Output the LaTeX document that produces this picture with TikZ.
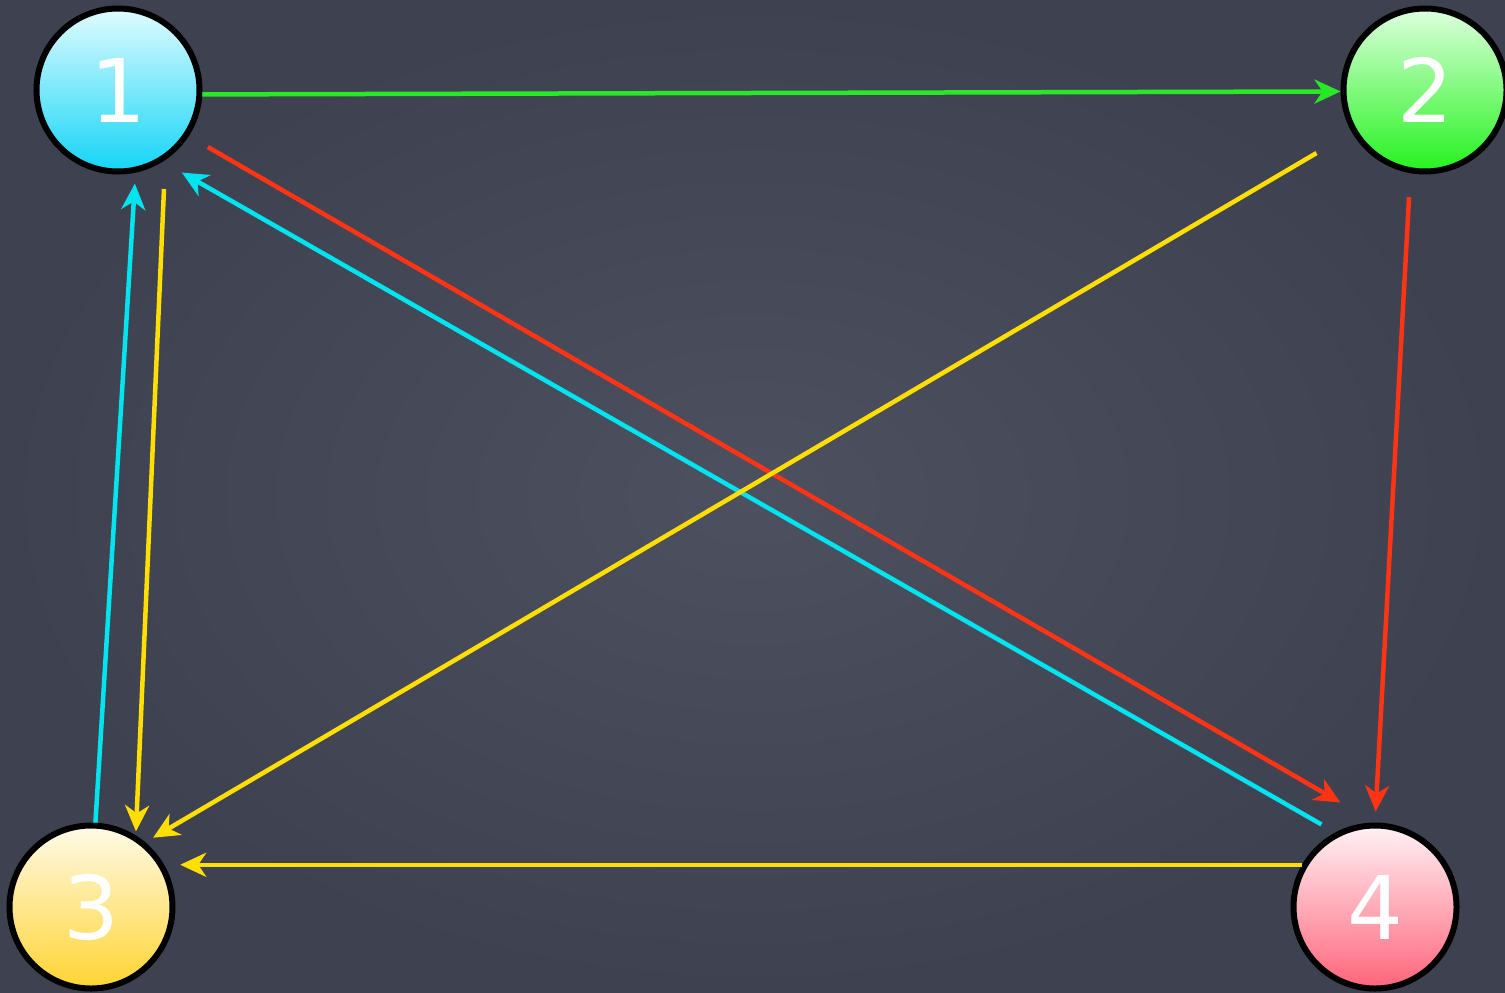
\documentclass[tikz,border=0pt]{standalone}
\usepackage{fontspec}
\usepackage{xcolor}
\usepackage{tikz}
\usetikzlibrary{arrows.meta,calc,positioning}
\newfontfamily\digitfont{DejaVu Sans}
\definecolor{boardlight}{RGB}{76,80,95}
\definecolor{boarddark}{RGB}{62,66,80}
\definecolor{arrgreen}{RGB}{40,232,40}
\definecolor{arrred}{RGB}{255,52,20}
\definecolor{arrcyan}{RGB}{0,228,240}
\definecolor{arryellow}{RGB}{255,222,0}

\begin{document}
\begin{tikzpicture}[
    vertex/.style={circle,draw=black,line width=0.06cm,minimum size=1.63cm,inner sep=0pt,
      text=white,font=\digitfont\fontsize{25}{25}\selectfont},
    conn/.style={line width=0.045cm,-{Stealth[length=0.26cm,width=0.24cm,inset=0.08cm]}}]
    \path[use as bounding box,clip] (0,0) rectangle (15.05,9.92);
    \shade[inner color=boardlight,outer color=boarddark] (0,0) rectangle (15.05,9.92);
    % the four vertices
    \node[vertex,top color={rgb,255:red,225;green,252;blue,255},bottom color={rgb,255:red,20;green,212;blue,246}] (v1) at (1.18,9.02) {1};
    \node[vertex,top color={rgb,255:red,222;green,255;blue,222},bottom color={rgb,255:red,36;green,242;blue,30}] (v2) at (14.25,9.02) {2};
    \node[vertex,top color={rgb,255:red,255;green,250;blue,232},bottom color={rgb,255:red,255;green,212;blue,50}] (v3) at (0.91,0.85) {3};
    \node[vertex,top color={rgb,255:red,255;green,242;blue,246},bottom color={rgb,255:red,255;green,100;blue,122}] (v4) at (13.75,0.85) {4};
    % edges
    \draw[conn,arrgreen] (v1.-3) -- (v2.181);
    \draw[conn,arrred,shorten <=0.22cm,shorten >=0.40cm] (v1.-33) -- (v4.90);
    \draw[conn,arrcyan,shorten <=0.16cm,shorten >=0.22cm] (v4.118) -- (v1.-58);
    \draw[conn,arryellow,shorten <=0.41cm,shorten >=0.09cm] (v2.210) -- (v3.50);
    \draw[conn,arrred,shorten <=0.24cm,shorten >=0.11cm] (v2.260) -- (v4.90);
    \draw[conn,arrcyan,shorten >=0.11cm] (v3.87) -- (v1.-78);
    \draw[conn,arryellow,shorten <=0.29cm,shorten >=0.04cm] (v1.-56) -- (v3.58);
    \draw[conn,arryellow,shorten >=0.16cm] (v4.150) -- (v3.30);
\end{tikzpicture}
\end{document}
